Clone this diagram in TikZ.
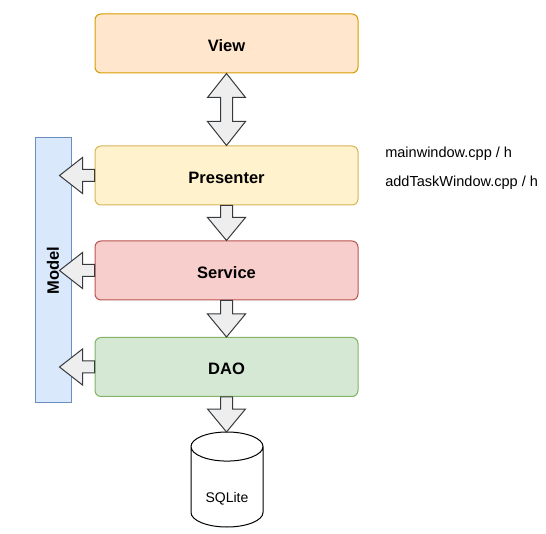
\documentclass[tikz,border=0pt]{standalone}
\usepackage{fontspec}
\setmainfont{Liberation Sans}
\usetikzlibrary{calc}

\definecolor{viewfill}{HTML}{FFE6CC}\definecolor{viewline}{HTML}{D79B00}
\definecolor{presfill}{HTML}{FFF2CC}\definecolor{presline}{HTML}{D6B656}
\definecolor{servfill}{HTML}{F8CECC}\definecolor{servline}{HTML}{B85450}
\definecolor{daofill}{HTML}{D5E8D4}\definecolor{daoline}{HTML}{82B366}
\definecolor{modelfill}{HTML}{DAE8FC}\definecolor{modelline}{HTML}{6C8EBF}
\definecolor{arrowfill}{HTML}{EEEEEE}\definecolor{arrowline}{HTML}{36393D}

% block arrows between named nodes
\newcommand{\arrowdown}[2]{%
  \path[blockarrow] let \p1=(#1.south), \p2=(#2.north) in
    (\x1-4.5pt,\y1) -- (\x1+4.5pt,\y1) -- (\x1+4.5pt,\y2+17.25pt) -- (\x1+14.25pt,\y2+17.25pt)
    -- (\x1,\y2) -- (\x1-14.25pt,\y2+17.25pt) -- (\x1-4.5pt,\y2+17.25pt) -- cycle;}
\newcommand{\arrowleft}[2]{%
  \path[blockarrow] let \p1=(#1.west), \p2=(#2.east) in
    (\x1,\y1-4.5pt) -- (\x1,\y1+4.5pt) -- (\x2+8.25pt,\y1+4.5pt) -- (\x2+8.25pt,\y1+13.5pt)
    -- (\x2-9pt,\y1) -- (\x2+8.25pt,\y1-13.5pt) -- (\x2+8.25pt,\y1-4.5pt) -- cycle;}
\newcommand{\arrowboth}[2]{%
  \path[blockarrow] let \p1=(#1.south), \p2=(#2.north) in
    (\x1,\y1) -- (\x1+14.25pt,\y1-18pt) -- (\x1+4.5pt,\y1-18pt) -- (\x1+4.5pt,\y2+18pt)
    -- (\x1+14.25pt,\y2+18pt) -- (\x1,\y2) -- (\x1-14.25pt,\y2+18pt) -- (\x1-4.5pt,\y2+18pt)
    -- (\x1-4.5pt,\y1-18pt) -- (\x1-14.25pt,\y1-18pt) -- cycle;}

\tikzset{
  layer/.style={rounded corners=4.5pt, line width=0.75pt, minimum width=197.25pt,
    minimum height=44.25pt, text height=12pt, text depth=0pt,
    font=\fontsize{12.4}{14}\selectfont\bfseries},
  blockarrow/.style={fill=arrowfill, draw=arrowline, line width=0.75pt, line join=miter},
  note/.style={anchor=west, font=\fontsize{10.9}{13}\selectfont, inner sep=0pt},
  cyl/.style={x radius=27pt, y radius=10.9pt}
}

\begin{document}
\begin{tikzpicture}[x=0.75pt, y=-0.75pt]
\useasboundingbox (0,0) rectangle (546,534);

\node[layer, fill=viewfill, draw=viewline] (view) at (226.5,43.5) {View};
\node[layer, fill=presfill, draw=presline] (presenter) at (226.5,175.5) {Presenter};
\node[layer, fill=servfill, draw=servline] (service) at (226.5,270.5) {Service};
\node[layer, fill=daofill, draw=daoline] (dao) at (226.5,367) {DAO};

\node[fill=modelfill, draw=modelline, line width=0.75pt, minimum width=27pt,
  minimum height=198.75pt] (model) at (53,270.5) {};
\node[rotate=90, font=\fontsize{12.4}{14}\selectfont\bfseries] (modellabel) at (model.center) {Model};

% database
\node[minimum width=54pt, minimum height=71.25pt, inner sep=0pt, outer sep=0pt] (sqlite) at (227,479.5) {};
\draw[line width=0.75pt, fill=white] ([yshift=-10.9pt]sqlite.north west) -- ([yshift=10.9pt]sqlite.south west)
  arc[start angle=180, end angle=360, cyl] -- ([yshift=-10.9pt]sqlite.north east)
  arc[start angle=0, end angle=180, cyl] arc[start angle=180, end angle=360, cyl];
\node[font=\fontsize{10.5}{12}\selectfont] (sqlitelabel) at (227,498.5) {SQLite};

\node[note] (mainwin) at (385,154) {mainwindow.cpp / h};
\node[note] (addtask) at (385,183) {addTaskWindow.cpp / h};

\arrowboth{view}{presenter}
\arrowdown{presenter}{service}
\arrowdown{service}{dao}
\arrowdown{dao}{sqlite}

\arrowleft{presenter}{model}
\arrowleft{service}{model}
\arrowleft{dao}{model}
\end{tikzpicture}
\end{document}
